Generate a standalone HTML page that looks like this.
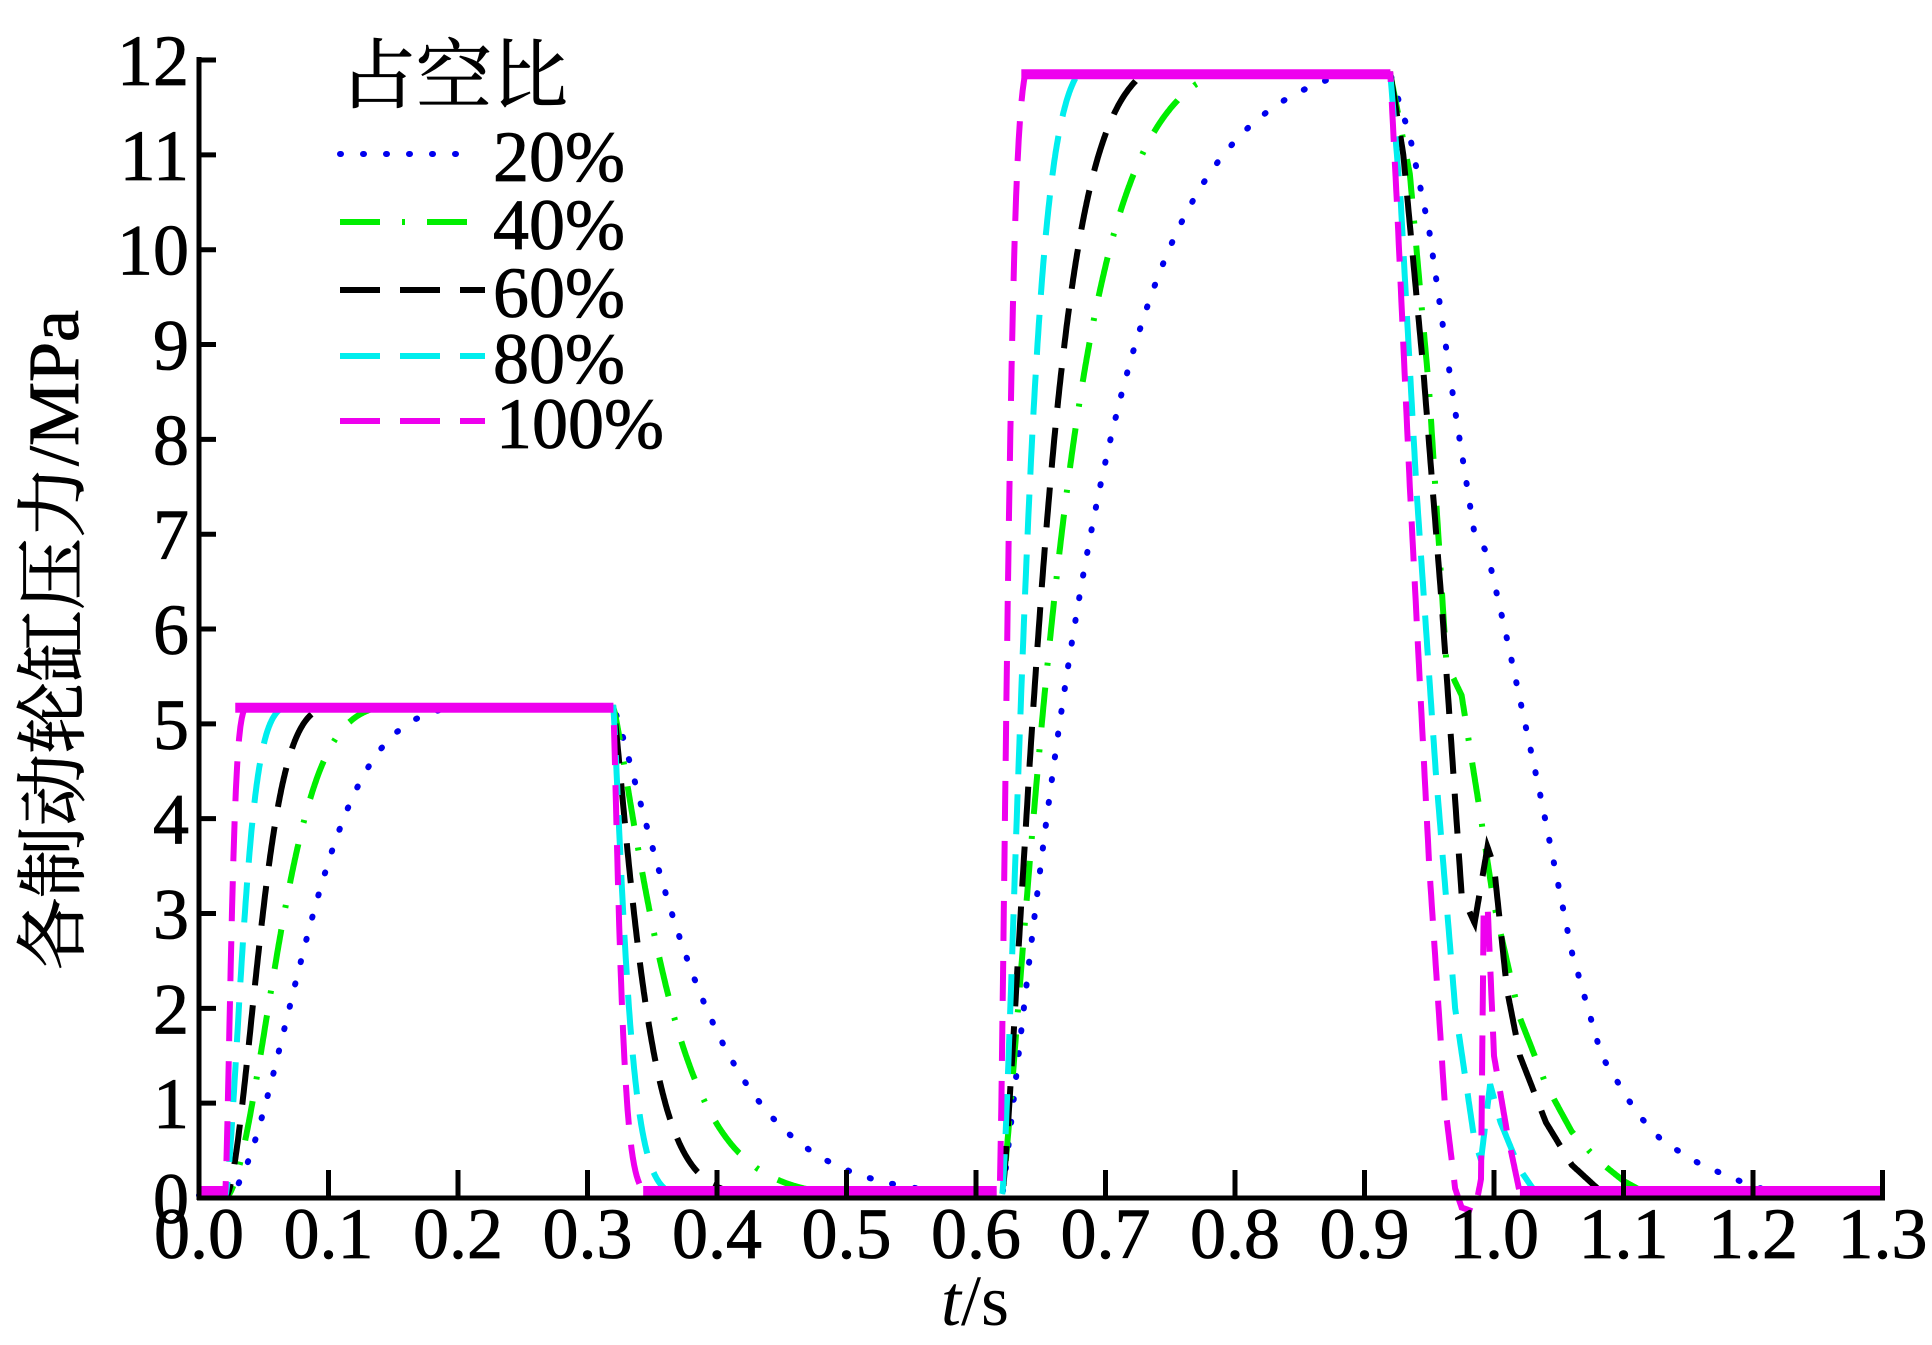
<!DOCTYPE html>
<html><head><meta charset="utf-8"><style>
html,body{margin:0;padding:0;background:#fff;}
svg{display:block;}
text{font-family:"Liberation Serif","Noto Serif CJK SC",serif;fill:#000;}
</style></head><body>
<svg id="s" width="1932" height="1345" viewBox="0 0 1932 1345" xmlns="http://www.w3.org/2000/svg">
<g id="curves"></g>
<g id="axes" stroke="#000" stroke-width="5" fill="none"></g>
<g id="labels" font-size="72" stroke="#000" stroke-width="0.8"></g>
<text x="0" y="0" font-size="72" text-anchor="middle" stroke="#000" stroke-width="0.8" transform="translate(78,640) rotate(-90)" style="font-family:'Liberation Serif','Noto Serif CJK SC',serif">各制动轮缸压力/MPa</text>
<text x="975" y="1325" font-size="72" text-anchor="middle"><tspan font-style="italic">t</tspan>/s</text>
<g id="legend"></g>
</svg>
<script>
var NS="http://www.w3.org/2000/svg";
function X(t){return 199+1295*t;}
function Y(v){return 1198-94.83*v;}
function el(tag,attrs,parent,txt){var e=document.createElementNS(NS,tag);for(var k in attrs)e.setAttribute(k,attrs[k]);if(txt!==undefined)e.textContent=txt;parent.appendChild(e);return e;}
var ax=document.getElementById('axes'),lb=document.getElementById('labels');
el('line',{x1:199,y1:57,x2:199,y2:1200},ax);
el('line',{x1:197,y1:1198,x2:1885,y2:1198},ax);
for(var i=0;i<=12;i++){var y=Y(i);if(i>0)el('line',{x1:199,y1:y,x2:216,y2:y},ax);
 el('text',{x:189,y:y+25,'text-anchor':'end'},lb,String(i));}
for(var j=0;j<=13;j++){var x=X(j/10);if(j>0)el('line',{x1:x,y1:1198,x2:x,y2:1170},ax);
 el('text',{x:x,y:1258,'text-anchor':'middle'},lb,(j/10).toFixed(1));}
var P1=5.17,P2=11.85;
function interp(pts,t){if(t<=pts[0][0])return pts[0][1];for(var i=1;i<pts.length;i++){if(t<=pts[i][0]){var a=pts[i-1],b=pts[i];return a[1]+(b[1]-a[1])*(t-a[0])/(b[0]-a[0]);}}return pts[pts.length-1][1];}
var S=[
 {c:'#0000ee',da:'1 22',w:6,r1:0.0745,k1:1.8,f1:0.075,r2:0.078,k2:1.12,s2:0.62,
  fall:[[0.92,11.85],[0.935,11.2],[0.95,10.2],[0.97,8.3],[0.985,7.0],[0.995,6.8],[1.01,5.9],[1.035,4.3],[1.06,2.6],[1.083,1.5],[1.11,0.9],[1.13,0.6],[1.16,0.35],[1.2,0.12],[1.23,0.03]]},
 {c:'#00ee00',da:'40 22 3 22',w:6,r1:0.05,k1:1.8,f1:0.047,r2:0.052,k2:1.2,s2:0.62,
  fall:[[0.92,11.85],[0.935,10.8],[0.95,8.5],[0.963,5.7],[0.968,5.5],[0.975,5.3],[0.99,4.0],[1.0,3.1],[1.02,1.9],[1.04,1.2],[1.06,0.7],[1.08,0.4],[1.1,0.18],[1.12,0.03]]},
 {c:'#000000',da:'40 20',w:6,r1:0.032,k1:1.8,f1:0.0265,r2:0.038,k2:1.3,s2:0.62,
  fall:[[0.92,11.85],[0.93,11],[0.945,8.8],[0.96,6.2],[0.975,3.2],[0.985,2.9],[0.995,3.7],[1.0,3.5],[1.01,2.2],[1.02,1.5],[1.04,0.8],[1.06,0.35],[1.08,0.1],[1.09,0.03]]},
 {c:'#00eeee',da:'40 20',w:6,r1:0.017,k1:1.6,f1:0.0126,r2:0.022,k2:1.4,s2:0.62,
  fall:[[0.92,11.85],[0.928,10.5],[0.94,7.5],[0.955,4.5],[0.97,2.0],[0.985,0.6],[0.99,0.4],[0.997,1.2],[1.005,0.8],[1.02,0.3],[1.03,0.1],[1.04,0.03]]},
 {c:'#ee00ee',da:'40 20',w:6,r1:0.006,k1:1.6,f1:0.007,r2:0.008,k2:1.5,s2:0.618,
  fall:[[0.92,11.85],[0.925,10.5],[0.935,7.5],[0.95,3.5],[0.962,1.0],[0.97,0.1],[0.975,-0.1],[0.985,-0.15],[0.99,0.2],[0.992,3.0],[0.995,3.1],[1.0,1.5],[1.01,0.7],[1.02,0.05]]}
];
function val(s,t){
 var z=0.03;
 if(t<0.02)return z;
 if(t<0.32){var u=t-0.02;var v=P1*(1-Math.exp(-Math.pow(u/s.r1,s.k1)))*1.01;return Math.max(z,Math.min(P1,v));}
 if(t<s.s2){var u=t-0.32;var v=P1*Math.exp(-Math.pow(u/s.f1,1.2));return Math.max(z,v);}
 if(t<0.92){var u=t-s.s2;var v=P2*(1-Math.exp(-Math.pow(u/s.r2,s.k2)))*1.02;return Math.max(z,Math.min(P2,v));}
 return Math.max(s===S[4]?-0.15:z,interp(s.fall,t));
}
var g=document.getElementById('curves');
S.forEach(function(s){var d='';for(var t=0;t<=1.3;t+=0.0005){d+=(d?'L':'M')+X(t).toFixed(1)+' '+Y(val(s,t)).toFixed(1);}
 el('path',{d:d,fill:'none',stroke:s.c,'stroke-width':s.w,'stroke-dasharray':s.da,'stroke-linecap':s.c=='#0000ee'?'round':'butt'},g);});
el('rect',{x:X(0.0),y:1186,width:X(0.022)-X(0),height:11,fill:'#ee00ee'},g);
el('rect',{x:X(0.343),y:1186,width:X(0.616)-X(0.343),height:11,fill:'#ee00ee'},g);
el('rect',{x:X(1.02),y:1186,width:X(1.3)-X(1.02),height:11,fill:'#ee00ee'},g);
el('rect',{x:X(0.028),y:Y(P1)-5,width:X(0.32)-X(0.028),height:10,fill:'#ee00ee'},g);
el('rect',{x:X(0.635),y:Y(P2)-5,width:X(0.92)-X(0.635),height:10,fill:'#ee00ee'},g);
var lg=document.getElementById('legend');
el('text',{x:340,y:102,'font-size':76,stroke:'#000','stroke-width':0.8,style:"font-family:'Liberation Serif','Noto Serif CJK SC',serif"},lg,'占空比');
var names=['20%','40%','60%','80%','100%'],ly=[154,222,290,356,421];
S.forEach(function(s,i){el('line',{x1:340,y1:ly[i],x2:i==0?472:485,y2:ly[i],stroke:s.c,'stroke-width':6,'stroke-dasharray':s.da,'stroke-linecap':i==0?'round':'butt'},lg);
 el('text',{x:i==4?496:493,y:ly[i]+27,'font-size':72,stroke:'#000','stroke-width':0.8},lg,names[i]);});
</script>
</body></html>
